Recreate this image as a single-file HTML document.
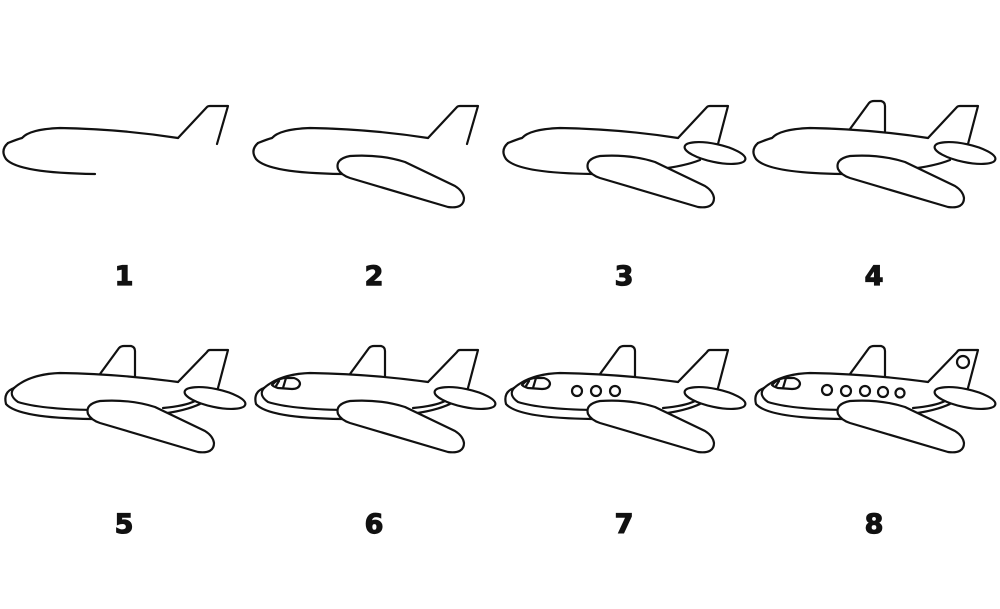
<!DOCTYPE html>
<html><head><style>
html,body{margin:0;padding:0;background:#fff;}
.n{font-family:"DejaVu Sans","Liberation Sans",sans-serif;font-weight:bold;font-size:27px;fill:#111;text-anchor:middle;stroke:#111;stroke-width:1.2px;}
</style></head><body>
<svg width="1000" height="604" viewBox="0 0 1000 604" xmlns="http://www.w3.org/2000/svg">
<defs>
<g id="body1"><path d="M8,48 Q18,44 22,43 Q30,34 60,33 Q120,34 178,43"/><path d="M8,48 Q0,55 6,64 Q18,78 92,79"/></g>
<g id="wing"><path fill="#fff" d="M100,83 L198,112 Q214,114 214,103 Q213,96 205,91 L155,67 Q130,59 100,61 Q85,64 88,74 Q91,80 100,83 Z"/></g>
<g id="stab"><ellipse fill="#fff" cx="215" cy="58" rx="31" ry="9" transform="rotate(12 215 58)"/></g>
<g id="fin"><path d="M100,34 L119,8 Q121,6 124,6 L131,6 Q135,7 135,11 L135,36"/></g>
<g id="p3">
 <use href="#body1"/>
 <path d="M160,74 Q185,71 200,65"/>
 <path d="M178,43 L207,12 Q208,11 210,11 L228,11 L218,49"/>
 <use href="#wing"/><use href="#stab"/>
</g>
<g id="p5">
 <path d="M14,48 Q30,34 60,33 Q120,34 178,42"/>
 <path d="M14,48 Q8,55 18,62 Q40,69 92,70"/>
 <path d="M14,48 Q3,52 6,64 Q18,78 92,79"/>
 <path d="M160,74 Q185,71 200,64"/><path d="M163,68 Q185,66 195,61"/>
 <path d="M178,42 L207,12 Q208,10 210,10 L228,10 L218,48"/>
 <use href="#fin"/><use href="#wing"/><use href="#stab"/>
</g>
<g id="cock"><path d="M22,45 Q28,38 36,38 L44,38 Q50,40 50,44 Q49,49 42,49 L28,48 Q24,47 22,45 Z"/><path d="M36,38 L33,48"/><path d="M29,41 L26,46"/></g>
</defs>
<g fill="none" stroke="#111" stroke-width="2.2" stroke-linecap="round" stroke-linejoin="round">
 <g transform="translate(0,95)">
  <path d="M8,48 Q18,44 22,43 Q30,34 60,33 Q120,34 178,43"/>
  <path d="M8,48 Q0,55 6,64 Q18,78 95,79"/>
  <path d="M178,43 L207,12 Q208,11 210,11 L228,11 L217,49"/>
 </g>
 <g transform="translate(250,95)">
  <use href="#body1"/>
  <path d="M178,43 L207,12 Q208,11 210,11 L228,11 L217,49"/>
  <use href="#wing"/>
 </g>
 <g transform="translate(500,95)"><use href="#p3"/></g>
 <g transform="translate(750,95)"><use href="#fin"/><use href="#p3"/></g>
 <g transform="translate(0,340)"><use href="#p5"/></g>
 <g transform="translate(250,340)"><use href="#p5"/><use href="#cock"/></g>
 <g transform="translate(500,340)"><use href="#p5"/><use href="#cock"/>
  <circle cx="77" cy="51" r="5"/><circle cx="96" cy="51" r="5"/><circle cx="115" cy="51" r="5"/></g>
 <g transform="translate(750,340)"><use href="#p5"/><use href="#cock"/>
  <circle cx="77" cy="50" r="5"/><circle cx="96" cy="51" r="5"/><circle cx="115" cy="51" r="5"/><circle cx="133" cy="52" r="5"/><circle cx="150" cy="53" r="4.5"/>
  <circle cx="213" cy="22" r="6"/></g>
</g>
<text class="n" x="124" y="285">1</text>
<text class="n" x="374" y="285">2</text>
<text class="n" x="624" y="285">3</text>
<text class="n" x="874" y="285">4</text>
<text class="n" x="124" y="533">5</text>
<text class="n" x="374" y="533">6</text>
<text class="n" x="624" y="533">7</text>
<text class="n" x="874" y="533">8</text>
</svg>
</body></html>
